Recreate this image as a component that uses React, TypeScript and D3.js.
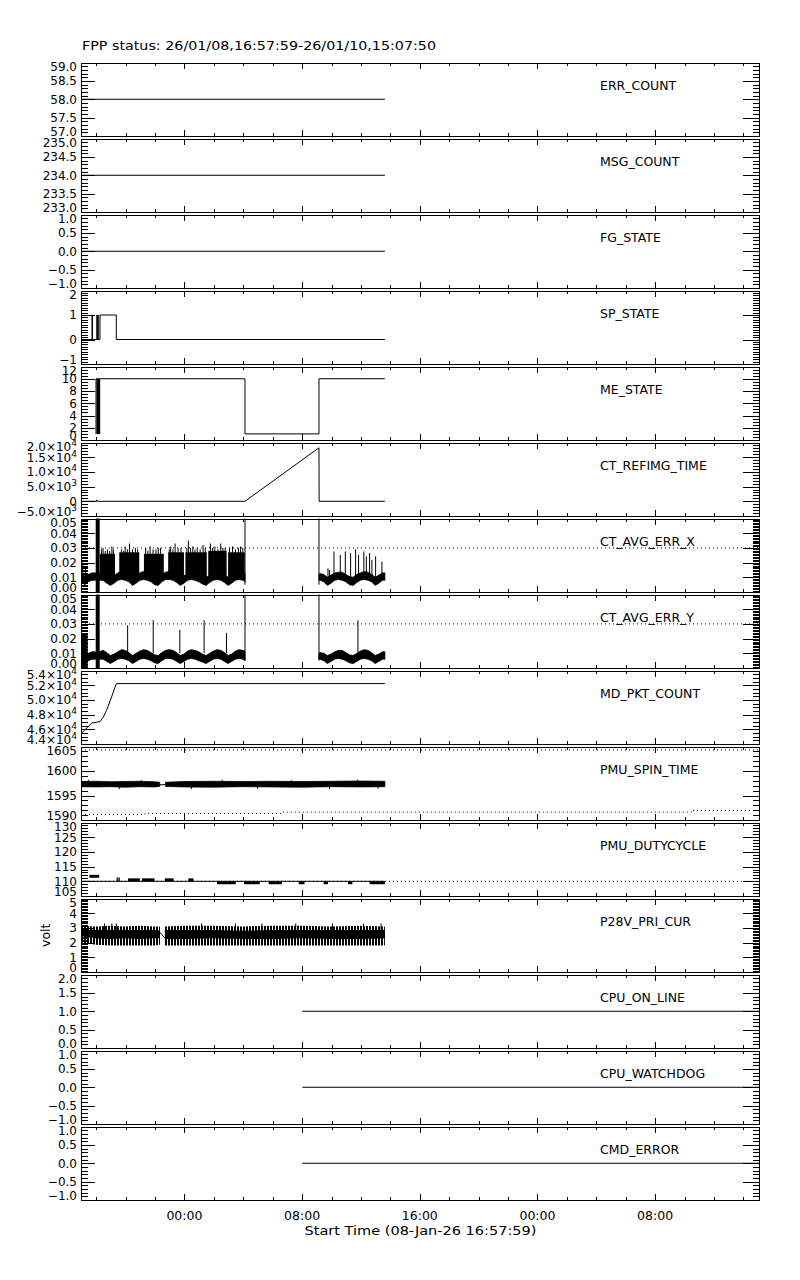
import React from 'react';
import * as d3 from 'd3';

type P = [number, number];

// ---------- layout constants ----------
const W = 800, H = 1280;
const X_LEFT = 81, X_RIGHT = 760;
const TOP0 = 62.5, STEP = 76, PH = 73.5;
const FONT = 'DejaVu Sans, sans-serif';

// ---------- time axis ----------
const START = Date.UTC(2026, 0, 8, 16, 57, 59);
const END = Date.UTC(2026, 0, 10, 15, 7, 50);
const TITLE = 'FPP status: 26/01/08,16:57:59-26/01/10,15:07:50';
const X_TITLE = 'Start Time (08-Jan-26 16:57:59)';

// ---------- panels ----------
const PANEL_NAMES = ['ERR_COUNT', 'MSG_COUNT', 'FG_STATE', 'SP_STATE', 'ME_STATE', 'CT_REFIMG_TIME',
  'CT_AVG_ERR_X', 'CT_AVG_ERR_Y', 'MD_PKT_COUNT', 'PMU_SPIN_TIME', 'PMU_DUTYCYCLE', 'P28V_PRI_CUR',
  'CPU_ON_LINE', 'CPU_WATCHDOG', 'CMD_ERROR'];
const Y_DOMAINS: P[] = [[57, 59], [233, 235], [-1, 1], [-1, 2], [0, 12], [-5000, 20000], [0, 0.05], [0, 0.05],
  [44000, 54000], [1590, 1605], [105, 130], [0, 5], [0, 2], [-1, 1], [-1, 1]];
const Y_MAJOR = [0.5, 0.5, 0.5, 1, 2, 5000, 0.01, 0.01, 2000, 5, 5, 1, 0.5, 0.5, 0.5];
const Y_MINOR = [0.1, 0.1, 0.1, 0.1, 0.5, 1000, 0.001, 0.001, 500, 1, 1, 0.1, 0.1, 0.1, 0.1];
const Y_FORMAT = ['.1f', '.1f', '.1f', 'd', 'd', 'sci', '.2f', '.2f', 'sci', 'd', 'd', 'd', '.1f', '.1f', '.1f'];
const CT_REFIMG_LABELS: [string, string][] = [['−5.0×10', '3'], ['0', ''], ['5.0×10', '3'], ['1.0×10', '4'], ['1.5×10', '4'], ['2.0×10', '4']];
const MD_PKT_LABELS: [string, string][] = [['4.4×10', '4'], ['4.6×10', '4'], ['4.8×10', '4'], ['5.0×10', '4'], ['5.2×10', '4'], ['5.4×10', '4']];
const Y_UNIT = ['', '', '', '', '', '', '', '', '', '', '', 'volt', '', '', ''];

// ---------- data (hours since start, value) ----------
const ERR_COUNT_DATA: P[] = [[0, 58], [20.66, 58]];
const MSG_COUNT_DATA: P[] = [[0, 234], [20.66, 234]];
const FG_STATE_DATA: P[] = [[0, 0], [20.66, 0]];
const SP_STATE_DATA: P[] = [[0, 0], [0.75, 1], [0.78, 0], [1.08, 1], [1.1, 0], [1.15, 1], [1.17, 0], [1.29, 1], [2.4, 0], [20.66, 0]];
const ME_STATE_DATA: P[] = [[1.0, 1], [1.02, 10], [1.09, 1], [1.11, 10], [1.13, 1], [1.15, 10], [1.17, 1], [1.19, 10],
  [1.21, 1], [1.23, 10], [1.25, 1], [1.27, 10], [11.15, 1], [16.18, 10], [20.66, 10]];
const CT_REFIMG_DATA: P[] = [[0, 0], [1.05, 0], [1.07, 500], [1.09, 0], [11.15, 0], [16.18, 18200], [16.19, 0], [20.66, 0]];
const MD_PKT_DATA: P[] = [[0, 45400], [0.73, 46850], [1.29, 47050], [1.52, 47670], [1.74, 48580], [2.08, 50400], [2.4, 52220], [20.66, 52220]];
const CPU_ON_LINE_DATA: P[] = [[15.05, 1], [46.17, 1]];
const CPU_WATCHDOG_DATA: P[] = [[15.05, 0], [46.17, 0]];
const CMD_ERROR_DATA: P[] = [[15.05, 0], [46.17, 0]];

// CT_AVG_ERR envelopes (min / max of the dense samples)
const ERR_T_A = [0, 0.25, 0.5, 0.75, 1, 1.25, 1.5, 1.75, 2, 2.25, 2.5, 2.75, 3, 3.25, 3.5, 3.75, 4, 4.25, 4.5, 4.75,
  5, 5.25, 5.5, 5.75, 6, 6.25, 6.5, 6.75, 7, 7.25, 7.5, 7.75, 8, 8.25, 8.5, 8.75, 9, 9.25, 9.5, 9.75, 10, 10.25, 10.5, 10.75, 11, 11.15];
const ERR_T_B = [16.18, 16.25, 16.5, 16.75, 17, 17.25, 17.5, 17.75, 18, 18.25, 18.5, 18.75, 19, 19.25, 19.5, 19.75, 20, 20.25, 20.5, 20.66];
const X_LO_A = [0.007, 0.005, 0.007, 0.008, 0.008, 0.008, 0.008, 0.006, 0.0045, 0.006,
  0.008, 0.0085, 0.008, 0.007, 0.0045, 0.006, 0.008, 0.0085, 0.008, 0.007,
  0.005, 0.0045, 0.007, 0.0085, 0.0085, 0.008, 0.0065, 0.0045, 0.006, 0.008,
  0.0085, 0.008, 0.007, 0.0055, 0.0045, 0.0065, 0.008, 0.0085, 0.008, 0.0065,
  0.0045, 0.006, 0.008, 0.0085, 0.008, 0.007];
const X_HI_A = [0.012, 0.011, 0.012, 0.013, 0.013, 0.013, 0.0135, 0.012, 0.010, 0.011,
  0.013, 0.014, 0.0135, 0.012, 0.010, 0.0115, 0.013, 0.014, 0.0135, 0.012,
  0.0105, 0.010, 0.012, 0.0135, 0.014, 0.0135, 0.012, 0.010, 0.011, 0.013,
  0.014, 0.0135, 0.0125, 0.011, 0.010, 0.0115, 0.013, 0.014, 0.0135, 0.012,
  0.010, 0.011, 0.013, 0.014, 0.0135, 0.013];
const X_LO_B = [0.008, 0.008, 0.007, 0.0045, 0.006, 0.008, 0.0085, 0.008, 0.007, 0.005, 0.0045, 0.0065, 0.008, 0.0085, 0.008, 0.007, 0.0045, 0.006, 0.008, 0.008];
const X_HI_B = [0.012, 0.0125, 0.012, 0.010, 0.0115, 0.013, 0.0135, 0.0135, 0.012, 0.0105, 0.010, 0.012, 0.013, 0.014, 0.0135, 0.012, 0.010, 0.0115, 0.013, 0.013];
const Y_LO_A = [0.005, 0.004, 0.005, 0.006, 0.006, 0.006, 0.006, 0.0045, 0.003, 0.0045,
  0.006, 0.0065, 0.006, 0.005, 0.003, 0.0045, 0.006, 0.0065, 0.006, 0.005,
  0.0035, 0.003, 0.005, 0.0065, 0.0065, 0.006, 0.0045, 0.003, 0.0045, 0.006,
  0.0065, 0.006, 0.005, 0.004, 0.003, 0.0045, 0.006, 0.0065, 0.006, 0.0045,
  0.003, 0.0045, 0.006, 0.0065, 0.006, 0.005];
const Y_HI_A = [0.010, 0.009, 0.010, 0.011, 0.011, 0.011, 0.012, 0.0105, 0.0085, 0.0095,
  0.011, 0.0125, 0.012, 0.0105, 0.0085, 0.010, 0.0115, 0.0125, 0.012, 0.0105,
  0.009, 0.0085, 0.0105, 0.012, 0.0125, 0.012, 0.0105, 0.0085, 0.0095, 0.0115,
  0.0125, 0.012, 0.011, 0.0095, 0.0085, 0.010, 0.0115, 0.0125, 0.012, 0.0105,
  0.0085, 0.0095, 0.0115, 0.0125, 0.012, 0.0115];
const Y_LO_B = [0.006, 0.006, 0.005, 0.003, 0.0045, 0.006, 0.0065, 0.006, 0.005, 0.0035, 0.003, 0.0045, 0.006, 0.0065, 0.006, 0.005, 0.003, 0.0045, 0.006, 0.006];
const Y_HI_B = [0.010, 0.0105, 0.010, 0.0085, 0.0095, 0.011, 0.012, 0.012, 0.0105, 0.009, 0.0085, 0.010, 0.0115, 0.0125, 0.012, 0.0105, 0.0085, 0.0095, 0.011, 0.011];
// burst intervals [start h, end h, top value]
const X_BURSTS: [number, number, number][] = [[1.29, 2.31, 0.026], [2.6, 3.96, 0.027], [4.28, 5.63, 0.026],
  [5.93, 7.0, 0.027], [7.1, 8.55, 0.027], [8.65, 9.9, 0.028], [10.0, 11.13, 0.027]];
const X_SPIKES: P[] = [[0.12, 0.020], [0.3, 0.017], [1.4, 0.029], [1.5, 0.030], [1.65, 0.028], [1.8, 0.029], [1.95, 0.028],
  [2.1, 0.031], [2.2, 0.029], [2.75, 0.029], [2.9, 0.028], [3.0, 0.031], [3.15, 0.029], [3.3, 0.033], [3.5, 0.029],
  [3.7, 0.030], [3.85, 0.029], [4.4, 0.030], [4.55, 0.028], [4.7, 0.031], [4.9, 0.029], [5.1, 0.029], [5.25, 0.030],
  [5.4, 0.030], [6.0, 0.029], [6.1, 0.031], [6.25, 0.029], [6.4, 0.033], [6.6, 0.030], [6.8, 0.030], [7.2, 0.030],
  [7.3, 0.035], [7.45, 0.030], [7.6, 0.031], [7.75, 0.029], [7.9, 0.030], [8.1, 0.029], [8.3, 0.032], [8.45, 0.030],
  [8.8, 0.033], [8.95, 0.030], [9.1, 0.031], [9.3, 0.029], [9.5, 0.033], [9.65, 0.030], [9.8, 0.030], [10.1, 0.030],
  [10.3, 0.031], [10.5, 0.029], [10.7, 0.030], [10.85, 0.031], [11.0, 0.030],
  [16.79, 0.0161], [16.9, 0.015], [17.2, 0.0276], [17.63, 0.0253], [17.97, 0.0276], [18.33, 0.0265], [18.67, 0.029],
  [18.87, 0.0253], [19.23, 0.0276], [19.4, 0.0242], [19.62, 0.0265], [19.78, 0.0219], [20.03, 0.0242], [20.46, 0.0207]];
const Y_SPIKES: P[] = [[3.17, 0.029], [4.91, 0.0325], [6.72, 0.026], [8.37, 0.0325], [9.89, 0.0239], [18.83, 0.0325]];
const ERR_EDGES: P[] = [[11.15, 0.06], [16.18, 0.06]];
const X_BLOCKS: [number, number, number, number][] = [[1.0, 1.27, 0, 0.06]];
const Y_BLOCKS: [number, number, number, number][] = [[1.0, 1.27, 0, 0.06], [0, 0.45, 0, 0.023]];
const ERR_LIMIT = 0.03;

// PMU_SPIN_TIME envelope
const SPIN_T_A = [0, 1, 2, 3, 4, 5, 5.35];
const SPIN_LO_A = [1596.8, 1596.75, 1596.8, 1596.7, 1596.8, 1596.75, 1596.85];
const SPIN_HI_A = [1597.85, 1597.9, 1597.8, 1597.85, 1597.9, 1597.8, 1597.7];
const SPIN_T_B = [5.75, 7, 9, 11, 13, 15, 17, 19, 20.66];
const SPIN_LO_B = [1596.85, 1596.75, 1596.7, 1596.8, 1596.75, 1596.7, 1596.8, 1596.75, 1596.8];
const SPIN_HI_B = [1597.7, 1597.85, 1597.9, 1597.85, 1597.9, 1597.85, 1597.9, 1597.95, 1597.9];
const SPIN_LINK: P[] = [[5.35, 1597.2], [5.75, 1597.2]];
const SPIN_SPIKES: [number, number, number][] = [[0.5, 1597.3, 1598.2], [2.6, 1597.3, 1596.3], [4.1, 1597.3, 1598.1],
  [7.5, 1597.3, 1596.3], [9.6, 1597.3, 1598.2], [12.0, 1597.3, 1596.4], [14.3, 1597.3, 1598.1], [16.9, 1597.3, 1596.3],
  [18.8, 1597.3, 1598.2], [20.2, 1597.3, 1596.4]];
const SPIN_UPPER_LIMIT: P[] = [[0, 1604.3], [46.17, 1604.3]];
const SPIN_LOWER_LIMIT: P[] = [[0, 1591.15], [4.35, 1591.35], [13.73, 1591.6], [41.5, 1591.95], [46.17, 1591.95]];

// PMU_DUTYCYCLE
const DUTY_DATA: P[] = [[0, 110], [20.66, 110]];
const DUTY_BLOCKS: [number, number, number, number][] = [[0.57, 1.24, 111.2, 112.2], [3.2, 4.0, 110, 111], [4.15, 5.0, 110, 111],
  [5.7, 6.3, 110, 111], [7.3, 7.65, 110, 111], [9.25, 10.52, 109, 110], [11.09, 12.15, 109, 110], [12.76, 13.66, 109, 110],
  [14.8, 15.2, 109, 110], [16.5, 16.79, 109, 110], [18.15, 18.45, 109, 110], [19.62, 20.66, 109, 110]];
const DUTY_TICKS: P[] = [[2.45, 111.3], [2.52, 111.3], [2.6, 111.3]];
const DUTY_LIMIT: P[] = [[0, 110], [46.17, 110]];

// P28V_PRI_CUR envelope: outer (sparse lines) and inner (solid)
const CUR_T_A = [0, 1, 2, 3, 4, 5, 5.37];
const CUR_OUT_LO_A = [2.0, 1.85, 1.8, 1.8, 1.8, 1.8, 1.85];
const CUR_OUT_HI_A = [3.15, 3.1, 3.15, 3.1, 3.15, 3.1, 3.1];
const CUR_IN_LO_A = [2.45, 2.3, 2.25, 2.3, 2.25, 2.3, 2.3];
const CUR_IN_HI_A = [2.9, 2.85, 2.85, 2.85, 2.85, 2.85, 2.8];
const CUR_T_B = [5.7, 7, 9, 11, 13, 15, 17, 19, 20.66];
const CUR_OUT_LO_B = [1.8, 1.8, 1.8, 1.8, 1.8, 1.8, 1.8, 1.8, 1.8];
const CUR_OUT_HI_B = [3.1, 3.15, 3.15, 3.1, 3.15, 3.15, 3.1, 3.15, 3.1];
const CUR_IN_LO_B = [2.25, 2.25, 2.3, 2.25, 2.25, 2.3, 2.25, 2.25, 2.3];
const CUR_IN_HI_B = [2.85, 2.85, 2.85, 2.8, 2.85, 2.85, 2.85, 2.85, 2.85];
const CUR_LINK: P[] = [[5.37, 2.7], [5.7, 2.3]];
const CUR_SPIKES: P[] = [[1.6, 3.3], [2.1, 3.3], [2.4, 3.3], [8.2, 3.3], [10.5, 3.3], [12.3, 3.3], [14.6, 3.3], [17.1, 3.3], [19.2, 3.3], [20.4, 3.3]];

// ---------- component ----------
export default function App() {
  const x = d3.scaleUtc().domain([new Date(START), new Date(END)]).range([X_LEFT, X_RIGHT]);
  const T = (h: number) => x(new Date(START + h * 3600e3));
  const xTicks = d3.utcHour.every(2)!.range(new Date(START), new Date(END));

  const panels = PANEL_NAMES.map((name, i) => {
    const top = TOP0 + i * STEP;
    const y = d3.scaleLinear().domain(Y_DOMAINS[i]).range([top + PH, top]);
    return { name, i, top, bottom: top + PH, y };
  });

  const line = (pts: P[], y: d3.ScaleLinear<number, number>, curve: d3.CurveFactory = d3.curveLinear) =>
    d3.line<P>().x(d => T(d[0])).y(d => y(d[1])).curve(curve)(pts) || '';
  const band = (ts: number[], lo: number[], hi: number[], y: d3.ScaleLinear<number, number>) =>
    d3.area<number>().x(d => T(d)).y0((_, k) => y(lo[k])).y1((_, k) => y(hi[k]))(ts) || '';
  const vseg = (h: number, a: number, b: number, y: d3.ScaleLinear<number, number>, key: string, w = 1) =>
    <line key={key} x1={T(h)} x2={T(h)} y1={y(a)} y2={y(b)} stroke="#000" strokeWidth={w} />;
  const block = (b: [number, number, number, number], y: d3.ScaleLinear<number, number>, key: string, fill = '#000') =>
    <rect key={key} x={T(b[0])} width={Math.max(1, T(b[1]) - T(b[0]))} y={y(b[3])} height={Math.max(1, y(b[2]) - y(b[3]))} fill={fill} />;
  const stroke = { fill: 'none', stroke: '#000', strokeWidth: 1 };
  const dotted = { fill: 'none', stroke: '#000', strokeWidth: 1, strokeDasharray: '1 3' };

  const renderData = (i: number, y: d3.ScaleLinear<number, number>) => {
    switch (i) {
      case 0: return <path d={line(ERR_COUNT_DATA, y)} {...stroke} />;
      case 1: return <path d={line(MSG_COUNT_DATA, y)} {...stroke} />;
      case 2: return <path d={line(FG_STATE_DATA, y)} {...stroke} />;
      case 3: return <path d={line(SP_STATE_DATA, y, d3.curveStepAfter)} {...stroke} />;
      case 4: return <path d={line(ME_STATE_DATA, y, d3.curveStepAfter)} {...stroke} />;
      case 5: return <path d={line(CT_REFIMG_DATA, y)} {...stroke} />;
      case 6:
      case 7: {
        const isX = i === 6;
        return (
          <g>
            <path d={line([[0, ERR_LIMIT], [46.17, ERR_LIMIT]], y)} {...dotted} />
            <path d={band(ERR_T_A, isX ? X_LO_A : Y_LO_A, isX ? X_HI_A : Y_HI_A, y)} fill="#000" stroke="#000" strokeWidth={0.8} />
            <path d={band(ERR_T_B, isX ? X_LO_B : Y_LO_B, isX ? X_HI_B : Y_HI_B, y)} fill="#000" stroke="#000" strokeWidth={0.8} />
            {isX && X_BURSTS.map((b, k) => block([b[0], b[1], 0.009, b[2]], y, 'b' + k))}
            {(isX ? X_SPIKES : Y_SPIKES).map((s, k) => vseg(s[0], 0.01, s[1], y, 's' + k))}
            {ERR_EDGES.map((s, k) => vseg(s[0], 0.005, s[1], y, 'e' + k))}
            {(isX ? X_BLOCKS : Y_BLOCKS).map((b, k) => block(b, y, 'k' + k))}
          </g>
        );
      }
      case 8: return <path d={line(MD_PKT_DATA, y)} {...stroke} />;
      case 9:
        return (
          <g>
            <path d={line(SPIN_UPPER_LIMIT, y)} {...dotted} />
            <path d={line(SPIN_LOWER_LIMIT, y, d3.curveStepAfter)} {...dotted} />
            <path d={band(SPIN_T_A, SPIN_LO_A, SPIN_HI_A, y)} fill="#000" stroke="#000" strokeWidth={0.8} />
            <path d={band(SPIN_T_B, SPIN_LO_B, SPIN_HI_B, y)} fill="#000" stroke="#000" strokeWidth={0.8} />
            <path d={line(SPIN_LINK, y)} {...stroke} />
            {SPIN_SPIKES.map((s, k) => vseg(s[0], s[1], s[2], y, 'p' + k))}
          </g>
        );
      case 10:
        return (
          <g>
            <path d={line(DUTY_LIMIT, y)} {...dotted} />
            <path d={line(DUTY_DATA, y)} {...stroke} />
            {DUTY_BLOCKS.map((b, k) => block(b, y, 'd' + k))}
            {DUTY_TICKS.map((s, k) => vseg(s[0], 110, s[1], y, 't' + k))}
          </g>
        );
      case 11:
        return (
          <g>
            <path d={band(CUR_T_A, CUR_OUT_LO_A, CUR_OUT_HI_A, y)} fill="url(#vstripe)" />
            <path d={band(CUR_T_B, CUR_OUT_LO_B, CUR_OUT_HI_B, y)} fill="url(#vstripe)" />
            <path d={band(CUR_T_A, CUR_IN_LO_A, CUR_IN_HI_A, y)} fill="#000" />
            <path d={band(CUR_T_B, CUR_IN_LO_B, CUR_IN_HI_B, y)} fill="#000" />
            <path d={line(CUR_LINK, y)} {...stroke} />
            {CUR_SPIKES.map((s, k) => vseg(s[0], 2.8, s[1], y, 'c' + k))}
          </g>
        );
      case 12: return <path d={line(CPU_ON_LINE_DATA, y)} {...stroke} />;
      case 13: return <path d={line(CPU_WATCHDOG_DATA, y)} {...stroke} />;
      case 14: return <path d={line(CMD_ERROR_DATA, y)} {...stroke} />;
    }
    return null;
  };

  const yLabel = (i: number, v: number, k: number) => {
    const f = Y_FORMAT[i];
    if (f === 'sci') {
      return (i === 5 ? CT_REFIMG_LABELS : MD_PKT_LABELS)[k];
    }
    const s = d3.format(f)(Math.abs(v) < 1e-9 ? 0 : v).replace('-', '−');
    return [s, ''] as [string, string];
  };

  return (
    <svg width={W} height={H} style={{ position: 'absolute', left: 0, top: 0, background: '#fff' }}
      fontFamily={FONT}>
      <defs>
        <pattern id="vstripe" width={3} height={4} patternUnits="userSpaceOnUse">
          <rect x={0} y={0} width={2} height={4} fill="#000" />
        </pattern>
        {panels.map(p => (
          <clipPath id={'clip' + p.i} key={p.i}>
            <rect x={X_LEFT} y={p.top} width={X_RIGHT - X_LEFT} height={PH} />
          </clipPath>
        ))}
      </defs>
      <rect x={0} y={0} width={W} height={H} fill="#fff" />
      <text x={82} y={49.5} fontSize={13} textLength={354} lengthAdjust="spacingAndGlyphs">{TITLE}</text>

      {panels.map(p => {
        const { i, top, bottom, y } = p;
        const [y0, y1] = Y_DOMAINS[i];
        const nMaj = Math.round((y1 - y0) / Y_MAJOR[i]);
        const nMin = Math.round((y1 - y0) / Y_MINOR[i]);
        const majors = d3.range(nMaj + 1).map(k => y0 + k * Y_MAJOR[i]);
        const minors = d3.range(nMin + 1).map(k => y0 + k * Y_MINOR[i]);
        let ticks = '';
        minors.forEach(v => {
          const yy = Math.round(y(v)) + 0.5;
          ticks += `M${X_LEFT},${yy}H${X_LEFT + 6.5}M${X_RIGHT},${yy}H${X_RIGHT - 7.5}`;
        });
        majors.forEach(v => {
          const yy = Math.round(y(v)) + 0.5;
          ticks += `M${X_LEFT},${yy}H${X_LEFT + 14}M${X_RIGHT},${yy}H${X_RIGHT - 17}`;
        });
        xTicks.forEach(t => {
          const xx = Math.round(x(t)) + 0.5;
          const len = t.getUTCHours() % 8 === 0 ? 6 : 3.5;
          ticks += `M${xx},${top}v${len}M${xx},${bottom}v${-len}`;
        });
        return (
          <g key={i}>
            <g clipPath={`url(#clip${i})`}>{renderData(i, y)}</g>
            <path d={ticks} stroke="#000" strokeWidth={1} fill="none" shapeRendering="crispEdges" />
            <rect x={X_LEFT + 0.5} y={Math.round(top) + 0.5} width={X_RIGHT - X_LEFT - 1} height={Math.round(bottom) - Math.round(top)}
              fill="none" stroke="#000" strokeWidth={1} shapeRendering="crispEdges" />
            {majors.map((v, k) => {
              const [main, sup] = yLabel(i, v, k);
              const cy = Math.min(Math.max(y(v), top + 4), bottom - 4);
              return (
                <text key={k} x={77} y={cy} dy="0.36em" fontSize={12} textAnchor="end">
                  <tspan>{main}</tspan>
                  {sup ? <tspan dy={-5} fontSize={9}>{sup}</tspan> : null}
                </text>
              );
            })}
            <text x={600} y={top + 27.5} fontSize={12.5}>{p.name}</text>
            {Y_UNIT[i] ? (
              <text transform={`translate(50,${(top + bottom) / 2}) rotate(-90)`} fontSize={12.5} textAnchor="middle">{Y_UNIT[i]}</text>
            ) : null}
          </g>
        );
      })}

      {xTicks.filter(t => t.getUTCHours() % 8 === 0).map((t, k) => (
        <text key={k} x={x(t)} y={1219.5} fontSize={12.5} textAnchor="middle">{d3.utcFormat('%H:%M')(t)}</text>
      ))}
      <text x={(X_LEFT + X_RIGHT) / 2} y={1235} fontSize={12.5} textAnchor="middle" textLength={232} lengthAdjust="spacingAndGlyphs">{X_TITLE}</text>
    </svg>
  );
}
